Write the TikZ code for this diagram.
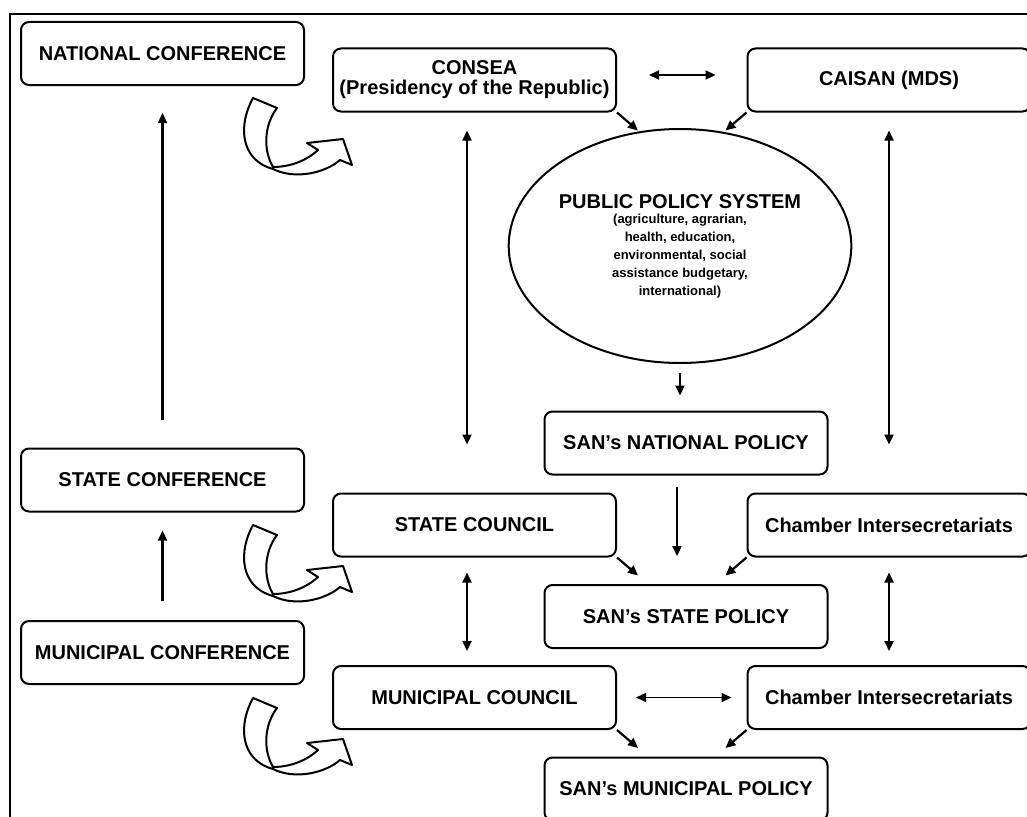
\documentclass[tikz,border=0pt]{standalone}
\usepackage{fontspec}
\setmainfont{Liberation Sans}
\usetikzlibrary{arrows.meta,shapes.geometric}

\newcommand{\sanbig}{\fontsize{20}{20}\selectfont\bfseries}
\newcommand{\sansmall}{\fontsize{13}{18}\selectfont\bfseries}

\begin{document}
\begin{tikzpicture}[x=1pt,y=-1pt,
	box/.style={draw, line width=2pt, rounded corners=8pt, minimum width=283pt,
		minimum height=63pt, inner sep=0pt, align=center, font=\sanbig},
	arr/.style={line width=2.2pt, -{Triangle[length=10pt,width=9pt]}},
	dbl/.style={line width=2.2pt, {Triangle[length=10pt,width=9pt]}-{Triangle[length=10pt,width=9pt]}}]
	\useasboundingbox (0,0) rectangle (1027,816);
	\clip (0,0) rectangle (1027,816);
	
	% frame
	\draw[line width=2pt] (10,830) -- (10,14) -- (1040,14);
	
	% all the boxes
	\foreach \name/\x/\y/\txt in
	{natconf/162.5/53.5/{NATIONAL CONFERENCE},
		stateconf/162.5/480/{STATE CONFERENCE},
		munconf/162.5/652.5/{MUNICIPAL CONFERENCE},
		consea/474.5/80/{CONSEA\\(Presidency of the Republic)},
		caisan/889/80/{CAISAN (MDS)},
		sannat/686/443/{SAN's NATIONAL POLICY},
		statecouncil/474.5/525/{STATE COUNCIL},
		chamberS/889/525/{Chamber Intersecretariats},
		sanstate/686/616.5/{SAN's STATE POLICY},
		muncouncil/474.5/697.5/{MUNICIPAL COUNCIL},
		chamberM/889/697.5/{Chamber Intersecretariats},
		sanmun/686/789/{SAN's MUNICIPAL POLICY}}{
		\node[box] (\name) at (\x,\y) {\txt};
	}
	
	% the policy system circle
	\node[ellipse, draw, line width=2pt, minimum width=286pt, minimum height=234pt,
	inner sep=0pt, align=center, font=\sansmall] (pps) at (680,246)
	{{\sanbig PUBLIC POLICY SYSTEM}\\[-3pt](agriculture, agrarian,\\health, education,\\
		environmental, social\\assistance budgetary,\\international)};
	
	% conferences going up
	\draw[arr, shorten <=28pt, shorten >=27pt] (stateconf.north) -- (natconf.south);
	\draw[arr, shorten <=19pt, shorten >=18pt] (munconf.north) -- (stateconf.south);
	
	% long and short vertical links
	\draw[dbl, shorten <=18pt, shorten >=48pt] ([xshift=-7.5pt]consea.south) -- ([xshift=-7.5pt]statecouncil.north);
	\draw[dbl, shorten <=18pt, shorten >=48pt] (caisan.south) -- (chamberS.north);
	\draw[dbl, shorten <=15pt, shorten >=14pt] ([xshift=-7.5pt]statecouncil.south) -- ([xshift=-7.5pt]muncouncil.north);
	\draw[dbl, shorten <=15pt, shorten >=14pt] (chamberS.south) -- (chamberM.north);
	\draw[arr, shorten <=9pt, shorten >=15pt] (pps.south) -- (pps.south |- sannat.north);
	\draw[arr, shorten <=11pt, shorten >=28pt] ([xshift=-9pt]sannat.south) -- ([xshift=-9pt]sanstate.north);
	
	% horizontal links
	\draw[dbl, shorten <=32pt, shorten >=31pt] ([yshift=5pt]consea.east) -- ([yshift=5pt]caisan.west);
	\draw[dbl, line width=1.6pt, shorten <=19pt, shorten >=15pt] (muncouncil.east) -- (chamberM.west);
	
	% corners pointing inwards
	\foreach \l/\r in {consea/caisan, statecouncil/chamberS, muncouncil/chamberM}{
		\draw[arr] (\l.south east) -- ++(21,18);
		\draw[arr] (\r.south west) -- ++(-21,18);
	}
	
	% curved hollow arrows
	\foreach \dy in {0,427,600}{
		\begin{scope}[shift={(0,\dy)}]
			\draw[line width=2pt, fill=white, line join=round]
			(253,98) .. controls (238,125) and (240,160) .. (273,169)
			.. controls (295,180) and (325,173) .. (340,160)
			-- (352,165) -- (343,139) -- (307,143) -- (318,150)
			.. controls (305,162) and (288,167) .. (273,167)
			.. controls (263,150) and (264,125) .. (277,108) -- cycle;
		\end{scope}
	}
\end{tikzpicture}
\end{document}
